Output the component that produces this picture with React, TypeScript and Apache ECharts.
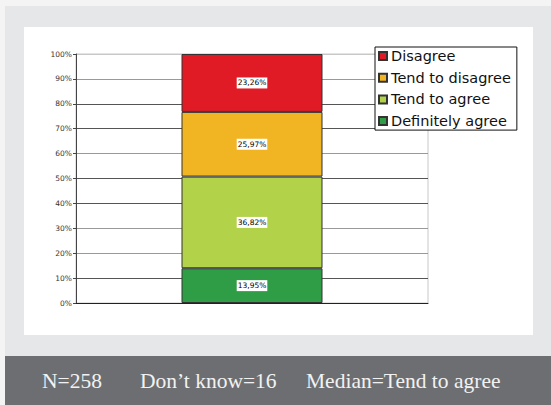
import React, { useEffect, useRef } from "react";
import * as echarts from "echarts";

// Survey answer shares (percent), stacked bottom to top
const categories = [""];
const seriesNames = ["Definitely agree", "Tend to agree", "Tend to disagree", "Disagree"];
const definitelyAgree = [13.95];
const tendToAgree = [36.82];
const tendToDisagree = [25.97];
const disagree = [23.26];
const seriesValues = [definitelyAgree, tendToAgree, tendToDisagree, disagree];
const seriesColors = ["#2f9d46", "#b2d24a", "#f1b422", "#e11b25"];
const legendOrder = ["Disagree", "Tend to disagree", "Tend to agree", "Definitely agree"];
const yTicks = { min: 0, max: 100, interval: 10 };
const footerItems = ["N=258", "Don’t know=16", "Median=Tend to agree"];
const footerX = [42, 140, 306];

const gridLineColors = [
  "#444", "#555", "#999", "#999", "#555", "#555", "#999", "#555", "#555", "#999", "#c8c8c8",
];

export default function App() {
  const ref = useRef<HTMLDivElement>(null);

  useEffect(() => {
    if (!ref.current) return;
    const chart = echarts.init(ref.current, null, { renderer: "svg" });

    const series = seriesNames.map((name, i) => ({
      name,
      type: "bar",
      stack: "total",
      barWidth: 141,
      data: seriesValues[i],
      itemStyle: { color: seriesColors[i], borderColor: "#333", borderWidth: 1 },
      label: {
        show: true,
        position: "inside",
        formatter: (p: any) => p.value.toFixed(2).replace(".", ",") + "%",
        backgroundColor: "#fff",
        padding: [2, 1, 1, 1],
        color: "#000",
        fontSize: 7.5,
        fontFamily: "DejaVu Sans",
      },
      emphasis: { disabled: true },
    }));

    chart.setOption({
      animation: false,
      backgroundColor: "transparent",
      grid: {
        left: 76,
        top: 54,
        width: 352,
        height: 249,
        show: true,
        borderColor: "#c8c8c8",
        borderWidth: 1,
        backgroundColor: "transparent",
        containLabel: false,
      },
      legend: {
        data: legendOrder,
        orient: "vertical",
        left: 375,
        top: 47,
        itemWidth: 8,
        itemHeight: 8,
        itemGap: 5.7,
        icon: "rect",
        padding: [1, 6, 1, 3],
        backgroundColor: "#fff",
        borderColor: "#111",
        borderWidth: 1,
        borderRadius: 0,
        selectedMode: false,
        textStyle: {
          fontFamily: "DejaVu Sans",
          fontSize: 14.5,
          lineHeight: 16,
          color: "#111",
          padding: [0, 0, 0, -1],
        },
      },
      xAxis: {
        type: "category",
        data: categories,
        axisLine: { show: true, lineStyle: { color: "#222", width: 1 } },
        axisTick: { show: false },
        axisLabel: { show: false },
        splitLine: { show: false },
      },
      yAxis: {
        type: "value",
        min: yTicks.min,
        max: yTicks.max,
        interval: yTicks.interval,
        axisLine: { show: true, lineStyle: { color: "#444", width: 1 } },
        axisTick: { show: true, length: 3, lineStyle: { color: "#444" } },
        axisLabel: {
          formatter: "{value}%",
          fontFamily: "DejaVu Sans",
          fontSize: 7.5,
          color: "#333",
          margin: 4,
        },
        splitLine: { show: true, lineStyle: { color: gridLineColors, width: 1 } },
      },
      graphic: footerItems.map((t, i) => ({
        type: "text",
        x: footerX[i],
        y: 381,
        z: 10,
        style: {
          text: t,
          fill: "#f2f2f2",
          font: '21.5px "Liberation Serif"',
          verticalAlign: "middle",
        },
      })),
      series,
    });

    return () => chart.dispose();
  }, []);

  return (
    <div style={{ position: "fixed", left: 0, top: 0, width: 551, height: 405, background: "#f4f4f4" }}>
      <div style={{ position: "absolute", left: 5, top: 6, width: 546, height: 350, background: "#e6e7e8" }} />
      <div style={{ position: "absolute", left: 5, top: 356, width: 546, height: 49, background: "#6d6e71" }} />
      <div style={{ position: "absolute", left: 24, top: 27, width: 509, height: 308, background: "#fff" }} />
      <div ref={ref} style={{ position: "absolute", left: 0, top: 0, width: 551, height: 405 }} />
    </div>
  );
}
